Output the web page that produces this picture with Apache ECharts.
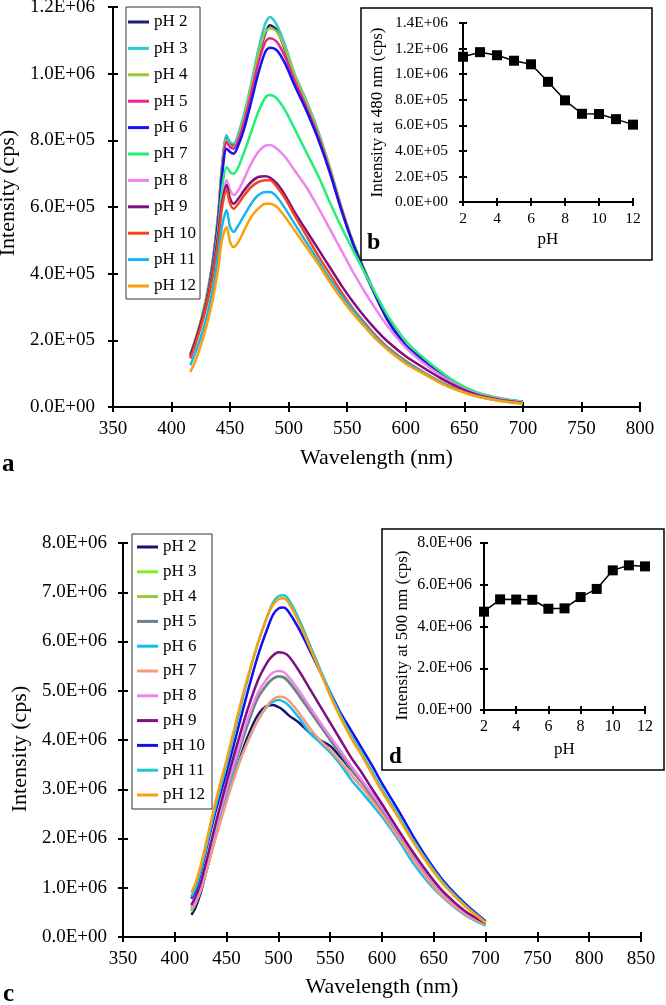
<!DOCTYPE html>
<html><head><meta charset="utf-8">
<script src="https://cdn.jsdelivr.net/npm/echarts@6/dist/echarts.min.js"></script>
<style>html,body{margin:0;padding:0;background:#fff}#c{width:666px;height:1005px}</style>
</head><body><div id="c"></div>
<script>
// ---------- Panel a: emission spectra (cps) ----------
const WL_A = [416,420,425,430,435,440,443,447,450,453,457,462,468,474,480,484,490,497,505,515,525,535,545,555,565,575,585,600,615,630,645,660,680,700];
const A_PH2  = [1.5e5,1.9e5,2.55e5,3.3e5,4.3e5,5.8e5,7.15e5,8.1e5,7.9e5,7.85e5,8.1e5,8.7e5,9.6e5,10.5e5,11.2e5,11.45e5,11.3e5,10.7e5,9.9e5,9.1e5,8.2e5,7.15e5,5.95e5,4.9e5,4.05e5,3.3e5,2.6e5,1.85e5,1.4e5,1.0e5,0.65e5,0.42e5,0.25e5,0.15e5];
const A_PH3  = [1.5e5,1.9e5,2.55e5,3.3e5,4.3e5,5.8e5,7.2e5,8.15e5,7.95e5,7.9e5,8.2e5,8.8e5,9.7e5,10.7e5,11.5e5,11.7e5,11.45e5,10.85e5,10.0e5,9.2e5,8.3e5,7.2e5,6.0e5,4.95e5,4.1e5,3.3e5,2.6e5,1.85e5,1.4e5,1.0e5,0.65e5,0.42e5,0.25e5,0.15e5];
const A_PH4  = [1.6e5,2.0e5,2.6e5,3.35e5,4.35e5,5.85e5,7.15e5,8.0e5,7.85e5,7.8e5,8.1e5,8.7e5,9.6e5,10.55e5,11.25e5,11.36e5,11.25e5,10.75e5,9.95e5,9.15e5,8.25e5,7.2e5,6.0e5,4.95e5,4.1e5,3.3e5,2.6e5,1.85e5,1.4e5,1.0e5,0.65e5,0.42e5,0.25e5,0.15e5];
const A_PH5  = [1.5e5,1.9e5,2.5e5,3.25e5,4.25e5,5.7e5,7.0e5,7.95e5,7.8e5,7.75e5,8.0e5,8.55e5,9.4e5,10.3e5,10.95e5,11.06e5,10.95e5,10.5e5,9.8e5,9.0e5,8.15e5,7.1e5,5.95e5,4.9e5,4.05e5,3.28e5,2.58e5,1.85e5,1.4e5,1.0e5,0.65e5,0.42e5,0.25e5,0.15e5];
const A_PH6  = [1.5e5,1.9e5,2.5e5,3.2e5,4.2e5,5.6e5,6.9e5,7.75e5,7.65e5,7.6e5,7.85e5,8.35e5,9.15e5,10.0e5,10.65e5,10.78e5,10.7e5,10.3e5,9.65e5,8.9e5,8.05e5,7.05e5,5.9e5,4.9e5,4.05e5,3.28e5,2.58e5,1.85e5,1.4e5,1.0e5,0.65e5,0.42e5,0.25e5,0.15e5];
const A_PH7  = [1.5e5,1.9e5,2.5e5,3.2e5,4.1e5,5.4e5,6.5e5,7.2e5,7.05e5,7.0e5,7.2e5,7.65e5,8.25e5,8.85e5,9.28e5,9.36e5,9.25e5,8.9e5,8.35e5,7.65e5,6.95e5,6.15e5,5.4e5,4.7e5,4.02e5,3.35e5,2.72e5,1.98e5,1.48e5,1.06e5,0.7e5,0.45e5,0.27e5,0.16e5];
const A_PH8  = [1.5e5,1.9e5,2.45e5,3.1e5,3.95e5,5.1e5,6.1e5,6.8e5,6.5e5,6.36e5,6.5e5,6.85e5,7.3e5,7.65e5,7.84e5,7.86e5,7.75e5,7.5e5,7.1e5,6.6e5,6.0e5,5.35e5,4.7e5,4.05e5,3.45e5,2.9e5,2.4e5,1.78e5,1.32e5,0.94e5,0.63e5,0.41e5,0.24e5,0.14e5];
const A_PH9  = [1.55e5,1.95e5,2.5e5,3.15e5,4.0e5,5.2e5,6.1e5,6.66e5,6.25e5,6.1e5,6.25e5,6.5e5,6.75e5,6.9e5,6.92e5,6.88e5,6.7e5,6.35e5,5.85e5,5.3e5,4.75e5,4.2e5,3.65e5,3.15e5,2.7e5,2.3e5,1.95e5,1.52e5,1.18e5,0.86e5,0.59e5,0.38e5,0.22e5,0.13e5];
const A_PH10 = [1.45e5,1.85e5,2.4e5,3.05e5,3.9e5,5.05e5,5.95e5,6.5e5,6.1e5,5.95e5,6.1e5,6.35e5,6.6e5,6.75e5,6.8e5,6.8e5,6.6e5,6.25e5,5.75e5,5.15e5,4.55e5,4.0e5,3.45e5,2.95e5,2.52e5,2.12e5,1.78e5,1.38e5,1.05e5,0.75e5,0.52e5,0.34e5,0.2e5,0.12e5];
const A_PH11 = [1.25e5,1.6e5,2.1e5,2.7e5,3.5e5,4.6e5,5.4e5,5.9e5,5.4e5,5.25e5,5.45e5,5.75e5,6.1e5,6.35e5,6.45e5,6.45e5,6.3e5,5.95e5,5.5e5,4.95e5,4.4e5,3.85e5,3.35e5,2.9e5,2.47e5,2.08e5,1.75e5,1.35e5,1.03e5,0.73e5,0.5e5,0.33e5,0.19e5,0.11e5];
const A_PH12 = [1.05e5,1.35e5,1.85e5,2.45e5,3.2e5,4.2e5,5.0e5,5.4e5,4.95e5,4.8e5,4.95e5,5.3e5,5.7e5,5.95e5,6.1e5,6.1e5,6.0e5,5.7e5,5.3e5,4.8e5,4.3e5,3.75e5,3.25e5,2.8e5,2.4e5,2.02e5,1.7e5,1.3e5,1.0e5,0.71e5,0.49e5,0.32e5,0.18e5,0.1e5];

// ---------- Panel c: emission spectra (cps) ----------
const WL_C = [416,420,425,430,440,450,460,470,480,490,495,500,505,510,520,530,540,550,560,570,580,590,600,615,630,645,660,680,700];
const C_PH2  = [0.45e6,0.6e6,0.9e6,1.3e6,2.1e6,2.8e6,3.45e6,4.05e6,4.5e6,4.7e6,4.71e6,4.67e6,4.6e6,4.5e6,4.35e6,4.15e6,4.0e6,3.88e6,3.65e6,3.4e6,3.15e6,2.85e6,2.55e6,2.05e6,1.6e6,1.2e6,0.85e6,0.5e6,0.27e6];
const C_PH3  = [0.52e6,0.68e6,0.98e6,1.38e6,2.2e6,2.95e6,3.65e6,4.3e6,4.85e6,5.15e6,5.25e6,5.29e6,5.27e6,5.18e6,4.9e6,4.6e6,4.3e6,4.0e6,3.72e6,3.42e6,3.15e6,2.87e6,2.58e6,2.12e6,1.65e6,1.22e6,0.85e6,0.5e6,0.27e6];
const C_PH4  = [0.55e6,0.7e6,1.0e6,1.4e6,2.2e6,2.95e6,3.65e6,4.3e6,4.85e6,5.15e6,5.25e6,5.29e6,5.28e6,5.19e6,4.92e6,4.62e6,4.32e6,4.03e6,3.74e6,3.44e6,3.17e6,2.88e6,2.6e6,2.13e6,1.66e6,1.23e6,0.86e6,0.5e6,0.27e6];
const C_PH5  = [0.6e6,0.75e6,1.02e6,1.4e6,2.2e6,2.95e6,3.65e6,4.3e6,4.85e6,5.15e6,5.25e6,5.29e6,5.27e6,5.18e6,4.9e6,4.6e6,4.3e6,4.0e6,3.72e6,3.42e6,3.15e6,2.87e6,2.58e6,2.12e6,1.65e6,1.22e6,0.85e6,0.5e6,0.27e6];
const C_PH6  = [0.55e6,0.7e6,0.95e6,1.3e6,2.1e6,2.8e6,3.45e6,3.95e6,4.4e6,4.7e6,4.78e6,4.81e6,4.78e6,4.7e6,4.45e6,4.15e6,3.95e6,3.75e6,3.5e6,3.2e6,2.95e6,2.7e6,2.44e6,2.0e6,1.5e6,1.1e6,0.78e6,0.45e6,0.23e6];
const C_PH7  = [0.55e6,0.7e6,0.95e6,1.3e6,2.05e6,2.75e6,3.4e6,3.95e6,4.4e6,4.72e6,4.83e6,4.88e6,4.87e6,4.8e6,4.55e6,4.25e6,4.0e6,3.8e6,3.55e6,3.3e6,3.05e6,2.78e6,2.5e6,2.05e6,1.58e6,1.15e6,0.8e6,0.47e6,0.25e6];
const C_PH8  = [0.6e6,0.76e6,1.04e6,1.43e6,2.25e6,3.0e6,3.72e6,4.4e6,4.95e6,5.27e6,5.37e6,5.4e6,5.38e6,5.28e6,5.0e6,4.68e6,4.37e6,4.07e6,3.78e6,3.48e6,3.2e6,2.92e6,2.63e6,2.16e6,1.68e6,1.24e6,0.87e6,0.51e6,0.28e6];
const C_PH9  = [0.65e6,0.82e6,1.1e6,1.5e6,2.35e6,3.15e6,3.9e6,4.6e6,5.2e6,5.6e6,5.72e6,5.78e6,5.77e6,5.7e6,5.4e6,5.05e6,4.7e6,4.35e6,4.0e6,3.65e6,3.35e6,3.02e6,2.7e6,2.2e6,1.72e6,1.28e6,0.9e6,0.53e6,0.28e6];
const C_PH10 = [0.78e6,0.95e6,1.3e6,1.75e6,2.6e6,3.35e6,4.15e6,4.95e6,5.7e6,6.3e6,6.55e6,6.67e6,6.69e6,6.6e6,6.25e6,5.83e6,5.4e6,4.97e6,4.55e6,4.2e6,3.85e6,3.5e6,3.12e6,2.6e6,2.05e6,1.55e6,1.12e6,0.68e6,0.32e6];
const C_PH11 = [0.82e6,1.0e6,1.35e6,1.8e6,2.7e6,3.5e6,4.35e6,5.2e6,5.95e6,6.55e6,6.8e6,6.92e6,6.94e6,6.85e6,6.45e6,5.95e6,5.45e6,4.95e6,4.5e6,4.1e6,3.75e6,3.38e6,3.0e6,2.5e6,1.97e6,1.5e6,1.08e6,0.65e6,0.3e6];
const C_PH12 = [0.9e6,1.1e6,1.45e6,1.9e6,2.8e6,3.6e6,4.45e6,5.25e6,5.95e6,6.55e6,6.75e6,6.86e6,6.88e6,6.78e6,6.38e6,5.9e6,5.4e6,4.9e6,4.45e6,4.05e6,3.7e6,3.33e6,2.95e6,2.45e6,1.93e6,1.46e6,1.05e6,0.63e6,0.29e6];

// ---------- Insets ----------
const PH = [2,3,4,5,6,7,8,9,10,11,12];
const B_480 = [1.136e6,1.172e6,1.148e6,1.105e6,1.077e6,0.940e6,0.795e6,0.690e6,0.688e6,0.648e6,0.605e6];
const D_500 = [4.71e6,5.30e6,5.29e6,5.28e6,4.85e6,4.87e6,5.41e6,5.80e6,6.69e6,6.93e6,6.88e6];

const NAMES = ['pH 2','pH 3','pH 4','pH 5','pH 6','pH 7','pH 8','pH 9','pH 10','pH 11','pH 12'];
const SERIES_A = [A_PH2,A_PH3,A_PH4,A_PH5,A_PH6,A_PH7,A_PH8,A_PH9,A_PH10,A_PH11,A_PH12];
const SERIES_C = [C_PH2,C_PH3,C_PH4,C_PH5,C_PH6,C_PH7,C_PH8,C_PH9,C_PH10,C_PH11,C_PH12];
const COLORS_A = ['#1c1c78','#2ecad2','#96c83a','#f0228c','#1414ee','#22ee78','#ee84ee','#80107f','#f2461e','#1ab4f0','#f7a20a'];
const COLORS_C = ['#141470','#7ef020','#98c840','#708090','#16bef0','#f79a78','#ee84ee','#800f80','#1010f0','#1ec8d0','#f8a010'];

const FONT = 'Liberation Serif';
const fmtE = v => {
  if (v === 0) return '0.0E+00';
  const e = Math.floor(Math.log10(v) + 1e-9);
  const m = v / Math.pow(10, e);
  return m.toFixed(1) + 'E+' + String(e).padStart(2, '0');
};

function axes(dir, grid, min, max, interval, labelSize, margin, name, nameSize, nameGap, fmt, tickLen, namePad) {
  const pos = dir === 'x' ? 'bottom' : 'left';
  const main = {
    type: 'value', gridIndex: grid, min, max, interval, position: pos,
    axisLine: { show: true, onZero: false, lineStyle: { color: '#000', width: 2 } },
    axisTick: { show: true, inside: false, length: tickLen, lineStyle: { color: '#000', width: 2 } },
    splitLine: { show: false },
    axisLabel: { show: true, fontFamily: FONT, fontSize: labelSize, color: '#000', margin, formatter: fmt },
    name, nameLocation: 'middle', nameGap,
    nameTextStyle: { fontFamily: FONT, fontSize: nameSize, color: '#000', padding: namePad || 0 }
  };
  const inner = {
    type: 'value', gridIndex: grid, min, max, interval, position: pos, offset: 0,
    axisLine: { show: false, onZero: false },
    axisTick: { show: true, inside: true, length: tickLen, lineStyle: { color: '#000', width: 2 } },
    splitLine: { show: false },
    axisLabel: { show: false }
  };
  return [main, inner];
}
const plain = v => String(v);

const xAxis = [
  ...axes('x', 0, 350, 800, 50, 19, 13, 'Wavelength (nm)', 22, 40, plain, 5),
  ...axes('x', 1, 2, 12, 2, 15.5, 9, 'pH', 17, 29, plain, 4),
  ...axes('x', 2, 350, 850, 50, 19, 13, 'Wavelength (nm)', 22, 39, plain, 5),
  ...axes('x', 3, 2, 12, 2, 16, 9, 'pH', 17, 31, plain, 4)
];
const yAxis = [
  ...axes('y', 0, 0, 1.2e6, 2e5, 19, 18, 'Intensity (cps)', 22, 89, fmtE, 5, [0,0,0,28]),
  ...axes('y', 1, 0, 1.4e6, 2e5, 15.5, 15, 'Intensity at 480 nm (cps)', 17, 77, fmtE, 4),
  ...axes('y', 2, 0, 8e6, 1e6, 19, 16, 'Intensity (cps)', 22, 92, fmtE, 5, [0,18,0,0]),
  ...axes('y', 3, 0, 8e6, 2e6, 16, 12, 'Intensity at 500 nm (cps)', 17, 73, fmtE, 4, [0,18,0,0])
];

const series = [];
SERIES_A.forEach((vals, i) => {
  series.push({
    type: 'line', name: NAMES[i], xAxisIndex: 0, yAxisIndex: 0,
    data: WL_A.map((w, k) => [w, vals[k]]),
    showSymbol: false, symbol: 'none', smooth: 0.3,
    lineStyle: { color: COLORS_A[i], width: 2.5 }, itemStyle: { color: COLORS_A[i] }
  });
});
const NAMES_C = NAMES.map(n => n.replace(' ', '\u00a0'));
SERIES_C.forEach((vals, i) => {
  series.push({
    type: 'line', name: NAMES_C[i], xAxisIndex: 4, yAxisIndex: 4,
    data: WL_C.map((w, k) => [w, vals[k]]),
    showSymbol: false, symbol: 'none', smooth: 0.3,
    lineStyle: { color: COLORS_C[i], width: 2.5 }, itemStyle: { color: COLORS_C[i] }
  });
});
series.push({
  type: 'line', name: 'b', xAxisIndex: 2, yAxisIndex: 2,
  data: PH.map((p, k) => [p, B_480[k]]),
  symbol: 'rect', symbolSize: 10, showSymbol: true,
  lineStyle: { color: '#000', width: 1.5 }, itemStyle: { color: '#000' }
});
series.push({
  type: 'line', name: 'd', xAxisIndex: 6, yAxisIndex: 6,
  data: PH.map((p, k) => [p, D_500[k]]),
  symbol: 'rect', symbolSize: 10, showSymbol: true,
  lineStyle: { color: '#000', width: 1.5 }, itemStyle: { color: '#000' }
});

const legendBase = {
  orient: 'vertical', icon: 'rect', itemWidth: 21, itemHeight: 3,
  borderColor: '#333', borderWidth: 1, borderRadius: 0, backgroundColor: '#fff',
  textStyle: { fontFamily: FONT, fontSize: 17, color: '#000', lineHeight: 20 },
  selectedMode: false
};

const option = {
  animation: false,
  backgroundColor: '#fff',
  grid: [
    { left: 113, top: 7, width: 527, height: 400, containLabel: false, outerBoundsMode: 'none' },
    { left: 463, top: 23, width: 170, height: 179, containLabel: false, outerBoundsMode: 'none' },
    { left: 123, top: 543, width: 518, height: 394, containLabel: false, outerBoundsMode: 'none' },
    { left: 484, top: 543, width: 161, height: 167, containLabel: false, outerBoundsMode: 'none' }
  ],
  xAxis, yAxis, series,
  legend: [
    Object.assign({}, legendBase, { left: 126, top: 7, data: NAMES, itemGap: 6.4, padding: [5, 4, 3, 2] }),
    Object.assign({}, legendBase, { left: 132, top: 534, data: NAMES_C, itemGap: 4.8, padding: [3, 7, 4, 5] })
  ],
  graphic: [
    { type: 'rect', shape: { x: 361, y: 8, width: 291, height: 252 }, style: { fill: 'none', stroke: '#000', lineWidth: 1.5 }, z: 10 },
    { type: 'rect', shape: { x: 382, y: 529, width: 282, height: 241 }, style: { fill: 'none', stroke: '#000', lineWidth: 1.5 }, z: 10 },
    { type: 'text', x: 2, y: 465, style: { text: 'a', font: 'bold 25px "Liberation Serif"', fill: '#000', verticalAlign: 'middle' }, z: 10 },
    { type: 'text', x: 367, y: 243, style: { text: 'b', font: 'bold 24px "Liberation Serif"', fill: '#000', verticalAlign: 'middle' }, z: 10 },
    { type: 'text', x: 3, y: 995, style: { text: 'c', font: 'bold 25px "Liberation Serif"', fill: '#000', verticalAlign: 'middle' }, z: 10 },
    { type: 'text', x: 389, y: 757, style: { text: 'd', font: 'bold 23px "Liberation Serif"', fill: '#000', verticalAlign: 'middle' }, z: 10 }
  ]
};

const chart = echarts.init(document.getElementById('c'), null, { renderer: 'canvas' });
chart.setOption(option);
</script>
</body></html>
